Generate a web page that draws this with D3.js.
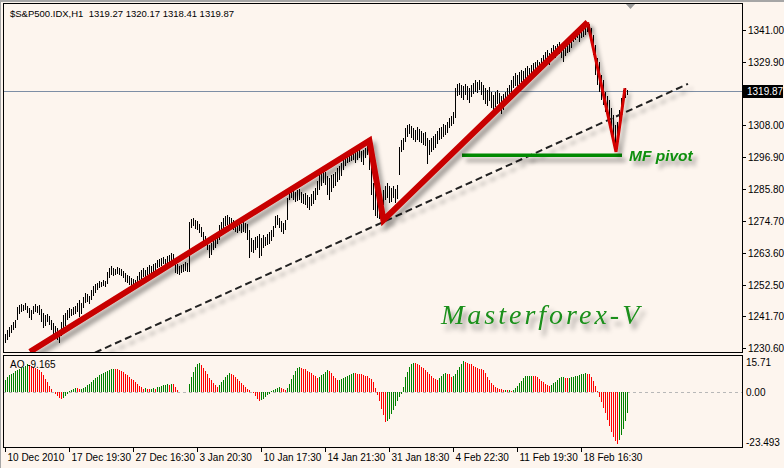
<!DOCTYPE html>
<html><head><meta charset="utf-8">
<script src="https://cdn.jsdelivr.net/npm/d3@7"></script>
<style>body{margin:0;background:#fdf5ee;}svg{display:block}</style>
</head><body>
<svg id="c" width="784" height="468"></svg>
<script>
// ---------- data ----------
const title = "$S&P500.IDX,H1  1319.27 1320.17 1318.41 1319.87";
const lastPrice = 1319.87;
const aoLabel = "AO -9.165";
const timeLabels = ["10 Dec 2010","17 Dec 19:30","27 Dec 16:30","3 Jan 20:30","10 Jan 17:30","14 Jan 21:30","31 Jan 18:30","4 Feb 22:30","11 Feb 19:30","18 Feb 16:30"];
const timeLabelStep = 32; // bars between time labels
const priceTicks = [1341.00,1329.90,1308.00,1296.90,1285.80,1274.70,1263.60,1252.50,1241.70,1230.60];
const aoTicks = [15.71, 0, -23.493];
const aoTickLabels = ["15.71","0.00","-23.493"];

const high = [
1235.5,1236.8,1237.9,1238.6,1239.6,1240.3,1244.8,1245.5,1245.9,1245.5,1246.2,1245.2,1244.5,1243.8,1245.2,1245.9,
1245.2,1245.5,1244.1,1242.7,1242.0,1242.4,1241.7,1240.3,1239.3,1238.2,1237.5,1236.8,1239.6,1242.0,1242.7,1243.8,
1244.5,1244.1,1244.8,1245.2,1246.2,1247.3,1246.2,1248.3,1249.7,1249.3,1248.6,1250.7,1252.1,1252.8,1253.2,1253.9,
1253.5,1254.2,1253.9,1257.0,1258.4,1259.1,1258.4,1258.0,1258.7,1258.4,1258.0,1257.3,1256.6,1255.9,1255.6,1254.9,
1254.6,1254.2,1255.6,1257.0,1257.7,1258.4,1257.7,1258.7,1259.4,1259.1,1259.8,1260.1,1261.1,1261.5,1261.8,1262.2,
1261.5,1262.5,1262.9,1263.6,1263.2,1260.4,1259.8,1259.1,1259.4,1259.8,1260.4,1260.1,1274.3,1275.4,1275.7,1275.0,
1274.7,1273.6,1272.6,1270.9,1269.5,1268.1,1266.4,1267.0,1268.8,1269.8,1270.9,1273.3,1274.3,1275.7,1276.4,1276.8,
1276.1,1275.7,1275.0,1274.7,1274.0,1274.3,1273.6,1274.3,1274.0,1273.6,1271.6,1268.8,1268.1,1269.1,1269.5,1270.2,
1268.8,1269.8,1269.1,1270.2,1270.9,1271.6,1272.9,1276.4,1276.8,1275.7,1274.7,1274.0,1275.0,1282.7,1285.4,1286.1,
1285.4,1284.8,1285.4,1285.8,1284.8,1284.1,1284.4,1283.7,1283.0,1284.1,1285.1,1286.1,1288.6,1290.7,1291.7,1292.4,
1291.7,1290.3,1289.6,1290.7,1291.0,1291.7,1293.1,1293.8,1294.8,1296.6,1297.6,1298.3,1297.9,1298.6,1299.3,1299.0,
1299.3,1299.7,1299.0,1299.3,1300.0,1300.7,1300.0,1295.9,1287.9,1285.4,1283.7,1282.0,1283.4,1285.4,1286.8,1287.9,
1286.8,1286.1,1286.8,1285.8,1287.2,1300.4,1302.8,1303.5,1307.0,1308.0,1308.4,1307.7,1307.0,1306.3,1307.3,1306.6,
1305.9,1305.2,1305.6,1303.5,1302.8,1303.5,1304.2,1304.9,1305.9,1307.0,1307.3,1308.4,1308.0,1309.1,1310.4,1311.1,
1312.5,1320.9,1322.3,1322.6,1321.9,1321.6,1322.3,1321.6,1320.9,1321.9,1322.6,1323.6,1322.9,1323.6,1322.9,1321.9,
1320.9,1320.2,1321.2,1319.5,1318.4,1319.5,1320.2,1319.1,1318.1,1318.8,1319.5,1320.9,1321.9,1323.6,1325.0,1326.1,
1325.4,1326.4,1327.1,1326.8,1327.8,1328.5,1327.8,1328.8,1329.5,1329.9,1330.6,1329.9,1331.3,1332.3,1333.4,1334.1,
1333.0,1334.7,1335.8,1335.4,1336.1,1336.8,1335.8,1334.7,1336.1,1337.2,1337.5,1338.9,1340.3,1341.0,1340.7,1340.0,
1341.0,1341.7,1342.4,1343.4,1343.1,1341.7,1339.3,1335.8,1331.3,1329.9,1325.4,1323.6,1319.5,1318.1,1316.7,1313.9,
1311.5,1308.0,1309.1,1313.2,1317.4,1320.2,1320.9,1320.2
];
const low = [
1232.3,1233.4,1234.4,1235.8,1236.8,1237.5,1240.3,1242.4,1243.1,1243.4,1243.8,1242.7,1241.0,1240.3,1242.4,1243.1,
1242.7,1242.0,1239.6,1237.5,1238.2,1239.6,1238.6,1236.8,1235.5,1234.8,1233.4,1232.3,1234.8,1236.8,1238.2,1240.3,
1241.0,1241.7,1242.0,1242.4,1243.1,1241.3,1242.4,1244.5,1246.2,1246.6,1245.9,1247.3,1248.6,1249.7,1250.7,1251.4,
1251.8,1252.1,1251.8,1252.8,1254.9,1255.9,1255.6,1255.9,1256.3,1255.9,1255.6,1254.9,1253.5,1253.2,1252.5,1252.1,
1251.8,1251.4,1252.8,1254.2,1254.6,1255.3,1254.9,1255.9,1256.3,1255.6,1257.0,1257.3,1258.4,1258.7,1259.1,1259.8,
1259.1,1260.1,1260.4,1260.8,1260.4,1256.6,1256.3,1255.9,1256.6,1257.0,1257.3,1257.0,1257.0,1272.3,1272.9,1271.9,
1271.6,1270.5,1269.1,1267.4,1266.0,1264.6,1261.8,1262.9,1264.6,1265.3,1266.7,1268.1,1269.5,1272.3,1272.9,1273.3,
1272.6,1272.6,1271.6,1270.9,1270.5,1271.2,1270.5,1270.9,1270.5,1268.1,1261.8,1263.9,1263.6,1264.6,1265.3,1261.8,
1262.5,1265.3,1266.0,1266.4,1266.7,1267.7,1269.1,1272.3,1273.3,1272.3,1270.9,1270.2,1271.6,1275.0,1282.0,1282.7,
1282.0,1281.3,1281.6,1282.0,1280.9,1280.6,1280.2,1279.2,1278.5,1279.9,1280.6,1282.0,1283.7,1285.4,1286.8,1287.9,
1287.2,1283.7,1282.0,1284.8,1286.1,1286.8,1288.2,1288.9,1290.3,1292.4,1293.8,1294.8,1295.2,1295.5,1295.9,1294.8,
1295.9,1296.6,1295.2,1294.1,1296.6,1297.6,1292.4,1283.7,1278.5,1276.4,1275.7,1275.4,1277.1,1280.2,1282.0,1282.7,
1280.9,1281.3,1282.7,1280.9,1282.3,1290.7,1298.6,1299.3,1302.1,1303.9,1304.9,1303.5,1302.8,1302.1,1302.8,1302.1,
1301.8,1301.1,1300.7,1294.5,1297.6,1298.6,1299.3,1300.0,1301.4,1302.8,1303.2,1303.9,1304.5,1305.2,1307.0,1307.7,
1308.4,1310.4,1318.1,1318.4,1317.4,1316.7,1318.4,1316.7,1315.7,1317.7,1318.8,1319.5,1319.1,1320.2,1318.4,1316.7,
1315.3,1314.6,1316.3,1313.9,1312.5,1314.3,1315.3,1313.9,1311.8,1313.2,1315.3,1316.7,1317.7,1319.5,1320.9,1321.6,
1321.2,1322.3,1322.9,1322.6,1323.6,1324.3,1324.0,1325.0,1325.7,1326.1,1326.8,1326.4,1327.1,1328.2,1329.2,1329.9,
1328.8,1330.6,1331.6,1331.3,1332.3,1332.7,1331.3,1329.9,1332.0,1333.0,1333.4,1334.7,1336.8,1337.5,1338.2,1336.8,
1338.2,1338.6,1339.3,1340.3,1340.0,1336.8,1332.3,1325.4,1321.9,1319.5,1316.7,1315.0,1312.5,1311.8,1309.8,1305.2,
1302.8,1298.6,1302.1,1307.0,1312.5,1316.7,1317.4,1318.4
];
const ao = [
5.9,7.0,8.0,8.5,9.0,9.6,10.2,10.7,11.2,11.7,12.2,12.8,12.5,12.0,11.5,11.0,
10.7,10.2,9.4,7.9,6.3,4.6,3.0,1.5,0.3,-0.5,-1.5,-2.4,-3.2,-2.5,-1.6,-0.6,
0.5,1.2,1.8,2.0,1.9,1.6,1.8,2.2,2.6,3.2,4.0,4.8,5.6,6.4,7.1,7.8,
8.4,9.0,9.5,9.9,10.3,10.6,10.8,10.7,10.5,10.2,9.8,9.2,8.5,7.8,7.0,6.2,
5.6,4.8,3.9,3.0,2.3,1.8,2.0,1.7,1.4,1.6,2.0,1.8,2.3,2.7,3.0,3.3,
3.6,3.8,3.5,3.9,3.7,2.5,1.2,0.4,0.3,0.25,0.2,0.15,4.0,7.0,9.5,11.5,
12.8,13.4,12.6,11.3,9.8,8.2,6.8,5.6,4.4,3.4,2.6,3.3,4.6,5.8,7.0,8.0,
8.7,8.4,7.8,7.0,6.1,5.2,4.3,3.4,2.5,1.8,1.0,0.4,-0.3,-1.5,-2.8,-3.8,
-3.5,-2.8,-2.0,-1.2,-0.5,0.5,1.0,1.5,2.2,2.6,2.2,1.6,1.0,2.0,4.0,6.0,
8.0,9.8,11.0,11.8,11.0,10.8,10.5,10.0,9.4,8.7,8.0,7.3,6.6,7.2,7.9,8.6,
9.3,10.1,9.6,8.7,7.5,6.4,5.6,5.8,6.2,6.6,7.0,7.4,8.0,8.5,8.8,8.7,
8.5,8.3,8.2,7.9,7.6,7.3,6.8,6.0,4.9,2.0,-1.0,-4.0,-7.5,-10.5,-13.4,-13.2,
-11.9,-10.0,-8.0,-6.0,-4.0,-2.0,-0.6,2.6,7.2,9.5,11.7,13.0,13.5,13.3,13.0,12.5,
11.8,11.0,10.2,9.4,8.5,7.6,6.8,6.1,5.6,6.5,7.5,8.2,8.7,8.6,8.3,7.0,
7.4,8.4,10.2,11.8,13.2,14.3,14.0,13.6,13.2,12.8,12.2,11.8,11.3,10.8,10.5,10.2,
8.7,7.2,5.6,4.3,3.3,2.6,2.0,1.6,1.4,1.1,1.2,0.9,1.0,0.8,1.2,2.0,
3.0,4.2,5.4,6.5,7.3,7.5,7.6,7.7,7.6,7.3,7.0,6.2,5.4,4.6,3.8,3.3,
3.0,3.5,4.1,4.8,5.6,6.4,7.0,7.2,6.8,6.5,6.7,7.0,7.1,7.3,7.5,7.9,
8.3,8.5,8.7,8.6,8.4,7.2,5.0,2.8,0.5,-2.0,-4.5,-7.0,-9.5,-12.6,-15.5,-18.0,
-20.2,-22.0,-23.49,-21.8,-19.5,-16.5,-13.0,-9.165
];
// annotations: [bar index, price]
const thickRedTrend = [[12.5,1229.3],[182.2,1302.6],[189.2,1275.0],[291.3,1343.7]];
const thinRedTrend = [[291.3,1343.7],[305.5,1298.7],[310.0,1320.8]];
const dashedSupport = [[45,1229.0],[341.5,1322.3]];
const pivotLevel = [[228.5,1297.5],[308.5,1297.5]];
const pivotText = "MF pivot";
const watermark = "Masterforex-V";

// ---------- drawing ----------
const svg = d3.select("#c");
const bg = "#fdf5ee";
svg.append("rect").attr("width",784).attr("height",468).attr("fill",bg);

const defs = svg.append("defs");
const f1 = defs.append("filter").attr("id","sh").attr("filterUnits","userSpaceOnUse")
  .attr("x",0).attr("y",0).attr("width",784).attr("height",468);
f1.append("feDropShadow").attr("dx",4).attr("dy",5).attr("stdDeviation",2).attr("flood-color","#000").attr("flood-opacity",0.35);
const f2 = defs.append("filter").attr("id","sh2").attr("filterUnits","userSpaceOnUse")
  .attr("x",0).attr("y",0).attr("width",784).attr("height",468);
f2.append("feDropShadow").attr("dx",4).attr("dy",6).attr("stdDeviation",2.5).attr("flood-color","#000").attr("flood-opacity",0.4);
defs.append("clipPath").attr("id","mainClip").append("rect").attr("x",4).attr("y",4).attr("width",738).attr("height",348);
defs.append("clipPath").attr("id","aoClip").append("rect").attr("x",4).attr("y",356).attr("width",738).attr("height",91);

const x = d3.scaleLinear().domain([0,311]).range([5,627]);
const y = d3.scaleLinear().domain([1230.6,1341.0]).range([348,30]);
const yAO = d3.scaleLinear().domain([-23.493,15.71]).range([444,358]);

// window chrome
svg.append("rect").attr("x",0).attr("y",0).attr("width",784).attr("height",2).attr("fill","#a6a6a6");
svg.append("rect").attr("x",0).attr("y",0).attr("width",1).attr("height",468).attr("fill","#a6a6a6");

const font = "Tahoma, 'Liberation Sans', Arial, sans-serif";

// main panel
const main = svg.append("g").attr("clip-path","url(#mainClip)");
main.append("line").attr("x1",3).attr("x2",742).attr("y1",Math.round(y(lastPrice))+0.5).attr("y2",Math.round(y(lastPrice))+0.5)
  .attr("stroke","#7d8ea5").attr("stroke-width",1);
main.append("g").selectAll("line").data(high).join("line")
  .attr("x1",(d,i)=>Math.round(x(i))+0.5).attr("x2",(d,i)=>Math.round(x(i))+0.5)
  .attr("y1",d=>y(d)).attr("y2",(d,i)=>y(low[i]))
  .attr("stroke","#000").attr("stroke-width",1).attr("shape-rendering","crispEdges");

const line = d3.line().x(d=>x(d[0])).y(d=>y(d[1]));
main.append("path").datum(dashedSupport).attr("d",line).attr("fill","none").attr("stroke","#222")
  .attr("stroke-width",2).attr("stroke-dasharray","7,4").attr("filter","url(#sh)");
main.append("path").datum(pivotLevel).attr("d",line).attr("fill","none").attr("stroke","#008a00")
  .attr("stroke-width",3.5).attr("filter","url(#sh)");
main.append("path").datum(thinRedTrend).attr("d",line).attr("fill","none").attr("stroke","#d40000")
  .attr("stroke-width",3).attr("stroke-linejoin","miter").attr("filter","url(#sh)");
main.append("path").datum(thickRedTrend).attr("d",line).attr("fill","none").attr("stroke","#c80000")
  .attr("stroke-width",6).attr("stroke-linejoin","miter").attr("filter","url(#sh)");

main.append("text").attr("x",x(pivotLevel[1][0])+7).attr("y",y(pivotLevel[1][1])+6)
  .attr("font-family","'Liberation Sans', Arial, sans-serif").attr("font-size",15.5).attr("font-weight","bold")
  .attr("font-style","italic").attr("fill","#0f8f0f").attr("filter","url(#sh)").text(pivotText);
main.append("text").attr("x",441).attr("y",324)
  .attr("font-family","'Liberation Serif', serif").attr("font-size",28).attr("font-style","italic")
  .attr("letter-spacing",3).attr("fill","#1a8f1a").attr("filter","url(#sh2)").text(watermark);

main.append("text").attr("x",10).attr("y",17).attr("font-family",font).attr("font-size",9.5)
  .style("white-space","pre").attr("fill","#000").text(title);
main.append("path").attr("d","M625,3L636,3L630.5,9Z").attr("fill","#9a9a9a");

// AO panel
const aog = svg.append("g").attr("clip-path","url(#aoClip)");
aog.append("line").attr("x1",3).attr("x2",742).attr("y1",Math.round(yAO(0))+0.5).attr("y2",Math.round(yAO(0))+0.5)
  .attr("stroke","#b8b8b8").attr("stroke-dasharray","3,3");
aog.append("g").selectAll("line").data(ao).join("line")
  .attr("x1",(d,i)=>Math.round(x(i))+0.5).attr("x2",(d,i)=>Math.round(x(i))+0.5)
  .attr("y1",Math.round(yAO(0))).attr("y2",d=>yAO(d))
  .attr("stroke",(d,i)=> (i===0 || d>ao[i-1]) ? "#008000" : "#ff0000")
  .attr("stroke-width",1).attr("shape-rendering","crispEdges");
aog.append("text").attr("x",10).attr("y",368).attr("font-family",font).attr("font-size",10).attr("fill","#000").text(aoLabel);

// frames
svg.append("rect").attr("x",3.5).attr("y",3.5).attr("width",739).attr("height",349).attr("fill","none").attr("stroke","#000");
svg.append("rect").attr("x",3.5).attr("y",355.5).attr("width",739).attr("height",92).attr("fill","none").attr("stroke","#000");

// price axis
const pa = svg.append("g");
priceTicks.forEach(v=>{
  const yy = Math.round(y(v))+0.5;
  pa.append("line").attr("x1",743).attr("x2",746).attr("y1",yy).attr("y2",yy).attr("stroke","#000");
  pa.append("text").attr("x",748).attr("y",yy+3.5).attr("font-family",font).attr("font-size",10).attr("fill","#000").text(v.toFixed(2));
});
const ly = Math.round(y(lastPrice))+0.5;
pa.append("rect").attr("x",743).attr("y",ly-6.5).attr("width",40).attr("height",13).attr("fill","#000");
pa.append("text").attr("x",747).attr("y",ly+3.5).attr("font-family",font).attr("font-size",10).attr("fill","#fff").text(lastPrice.toFixed(2));

// AO axis
aoTicks.forEach((v,k)=>{
  const yy = Math.min(Math.max(yAO(v)+3.5, 366), 445.5);
  pa.append("text").attr("x",746).attr("y",yy).attr("font-family",font).attr("font-size",10).attr("fill","#000").text(aoTickLabels[k]);
});

// time axis
timeLabels.forEach((t,k)=>{
  const xx = Math.round(x(k*timeLabelStep))+0.5;
  pa.append("line").attr("x1",xx).attr("x2",xx).attr("y1",448).attr("y2",452).attr("stroke","#000");
  pa.append("text").attr("x",xx+2).attr("y",461).attr("font-family",font).attr("font-size",10).attr("fill","#000").text(t);
});
</script>
</body></html>
